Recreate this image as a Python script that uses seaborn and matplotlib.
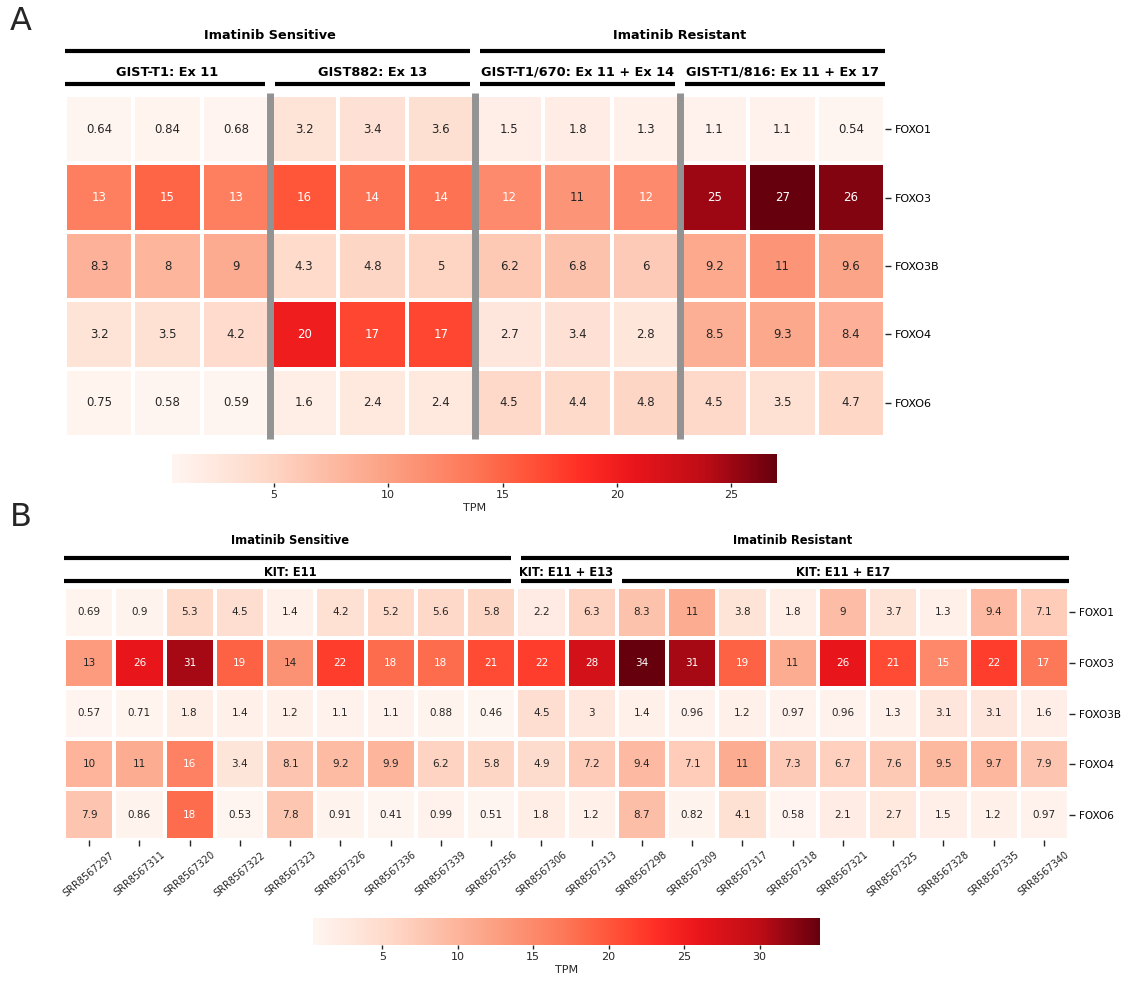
import numpy as np
import pandas as pd
import matplotlib
matplotlib.use("Agg")
import matplotlib.pyplot as plt
import matplotlib.transforms as mtransforms
from matplotlib.colors import LinearSegmentedColormap
import seaborn as sns

sns.set_theme(style="white")
plt.rcParams["font.family"] = ["DejaVu Sans"]

genes = ["FOXO1", "FOXO3", "FOXO3B", "FOXO4", "FOXO6"]

# ---- Panel A: cell lines (3 replicates each) ----
cell_samples = [f"S{i}" for i in range(1, 13)]
a_foxo1 = [0.64, 0.84, 0.68, 3.2, 3.4, 3.6, 1.5, 1.8, 1.3, 1.1, 1.1, 0.54]
a_foxo3 = [13, 15, 13, 16, 14, 14, 12, 11, 12, 25, 27, 26]
a_foxo3b = [8.3, 8, 9, 4.3, 4.8, 5, 6.2, 6.8, 6, 9.2, 11, 9.6]
a_foxo4 = [3.2, 3.5, 4.2, 20, 17, 17, 2.7, 3.4, 2.8, 8.5, 9.3, 8.4]
a_foxo6 = [0.75, 0.58, 0.59, 1.6, 2.4, 2.4, 4.5, 4.4, 4.8, 4.5, 3.5, 4.7]
a_groups = [("Imatinib Sensitive", 0, 6), ("Imatinib Resistant", 6, 12)]
a_subgroups = [("GIST-T1: Ex 11", 0, 3), ("GIST882: Ex 13", 3, 6),
               ("GIST-T1/670: Ex 11 + Ex 14", 6, 9),
               ("GIST-T1/816: Ex 11 + Ex 17", 9, 12)]

# ---- Panel B: patient tumour samples ----
tumor_samples = ["SRR8567297", "SRR8567311", "SRR8567320", "SRR8567322",
                 "SRR8567323", "SRR8567326", "SRR8567336", "SRR8567339",
                 "SRR8567356", "SRR8567306", "SRR8567313", "SRR8567298",
                 "SRR8567309", "SRR8567317", "SRR8567318", "SRR8567321",
                 "SRR8567325", "SRR8567328", "SRR8567335", "SRR8567340"]
b_foxo1 = [0.69, 0.9, 5.3, 4.5, 1.4, 4.2, 5.2, 5.6, 5.8, 2.2, 6.3, 8.3, 11,
           3.8, 1.8, 9, 3.7, 1.3, 9.4, 7.1]
b_foxo3 = [13, 26, 31, 19, 14, 22, 18, 18, 21, 22, 28, 34, 31, 19, 11, 26,
           21, 15, 22, 17]
b_foxo3b = [0.57, 0.71, 1.8, 1.4, 1.2, 1.1, 1.1, 0.88, 0.46, 4.5, 3, 1.4,
            0.96, 1.2, 0.97, 0.96, 1.3, 3.1, 3.1, 1.6]
b_foxo4 = [10, 11, 16, 3.4, 8.1, 9.2, 9.9, 6.2, 5.8, 4.9, 7.2, 9.4, 7.1, 11,
           7.3, 6.7, 7.6, 9.5, 9.7, 7.9]
b_foxo6 = [7.9, 0.86, 18, 0.53, 7.8, 0.91, 0.41, 0.99, 0.51, 1.8, 1.2, 8.7,
           0.82, 4.1, 0.58, 2.1, 2.7, 1.5, 1.2, 0.97]
b_groups = [("Imatinib Sensitive", 0, 9), ("Imatinib Resistant", 9, 20)]
b_subgroups = [("KIT: E11", 0, 9), ("KIT: E11 + E13", 9, 11),
               ("KIT: E11 + E17", 11, 20)]

df_a = pd.DataFrame([a_foxo1, a_foxo3, a_foxo3b, a_foxo4, a_foxo6],
                    index=genes, columns=cell_samples)
df_b = pd.DataFrame([b_foxo1, b_foxo3, b_foxo3b, b_foxo4, b_foxo6],
                    index=genes, columns=tumor_samples)

cmap = LinearSegmentedColormap.from_list(
    "tpm_reds",
    [(0.00, "#fff5f0"), (0.15, "#fed9c9"), (0.35, "#fca285"),
     (0.50, "#fd7656"), (0.60, "#ff5035"), (0.68, "#ff2d25"),
     (0.76, "#ea161b"), (0.88, "#be0c16"), (1.00, "#67000d")])

W, H = 1125, 982
fig = plt.figure(figsize=(W / 100, H / 100), dpi=100)


def px_axes(x0, y0, x1, y1):
    return fig.add_axes([x0 / W, 1 - y1 / H, (x1 - x0) / W, (y1 - y0) / H])


def brackets(ax, groups, subgroups, ncols, width_px, g_text, g_line,
             s_text, s_line, fs, lw):
    trans = mtransforms.blended_transform_factory(ax.transData, ax.transAxes)
    gap = 5.0 / (width_px / ncols)
    for items, ty, ly in [(groups, g_text, g_line),
                          (subgroups, s_text, s_line)]:
        for label, start, end in items:
            x0 = start + (gap if start > 0 else 0)
            x1 = end - (gap if end < ncols else 0)
            ax.plot([x0, x1], [ly, ly], color="black", lw=lw,
                    transform=trans, clip_on=False, solid_capstyle="butt")
            ax.text((start + end) / 2, ty, label, transform=trans,
                    ha="center", va="center", fontsize=fs,
                    fontweight="bold", color="black")


# ---------------- Panel A ----------------
ax_a = px_axes(65, 95, 885, 437)
cax_a = px_axes(172, 454, 777, 483)
sns.heatmap(df_a, ax=ax_a, cmap=cmap, annot=True, fmt=".2g",
            annot_kws={"fontsize": 8.5}, linewidths=1.5, linecolor="white",
            cbar_ax=cax_a, cbar_kws={"orientation": "horizontal"})
ax_a.set_xticks([])
ax_a.set_xlabel("")
ax_a.yaxis.tick_right()
ax_a.tick_params(axis="y", which="both", right=True, length=4, width=1,
                 labelsize=8, pad=3, rotation=0, labelcolor="black")
ax_a.vlines([3, 6, 9], -0.03, 5.03, colors="#939393", lw=5,
            clip_on=False, zorder=5)
brackets(ax_a, a_groups, a_subgroups, 12, 820, 1.175, 1.129, 1.067, 1.032,
         9.3, 3)
cax_a.tick_params(labelsize=8, length=3, width=1, pad=2)
cax_a.set_xlabel("TPM", fontsize=8, labelpad=2)
cax_a.set_xticks([5, 10, 15, 20, 25])
fig.text(10 / W, 1 - 21 / H, "A", fontsize=23, va="center", ha="left")

# ---------------- Panel B ----------------
ax_b = px_axes(64, 587, 1069, 840)
cax_b = px_axes(313, 918, 820, 945)
sns.heatmap(df_b, ax=ax_b, cmap=cmap, annot=True, fmt=".2g",
            annot_kws={"fontsize": 7.5}, linewidths=1.5, linecolor="white",
            cbar_ax=cax_b, cbar_kws={"orientation": "horizontal"})
ax_b.yaxis.tick_right()
ax_b.tick_params(axis="y", which="both", right=True, length=4, width=1,
                 labelsize=7.5, pad=3, rotation=0, labelcolor="black")
ax_b.tick_params(axis="x", which="both", bottom=True, length=4, width=1,
                 labelsize=7, pad=3)
plt.setp(ax_b.get_xticklabels(), rotation=40, ha="center")
ax_b.set_xlabel("")
brackets(ax_b, b_groups, b_subgroups, 20, 1005, 1.182, 1.115, 1.059, 1.024,
         8.3, 3)
cax_b.tick_params(labelsize=8, length=3, width=1, pad=2)
cax_b.set_xlabel("TPM", fontsize=8, labelpad=2)
cax_b.set_xticks([5, 10, 15, 20, 25, 30])
fig.text(10 / W, 1 - 517 / H, "B", fontsize=23, va="center", ha="left")

fig.savefig("out.png", dpi=100)
